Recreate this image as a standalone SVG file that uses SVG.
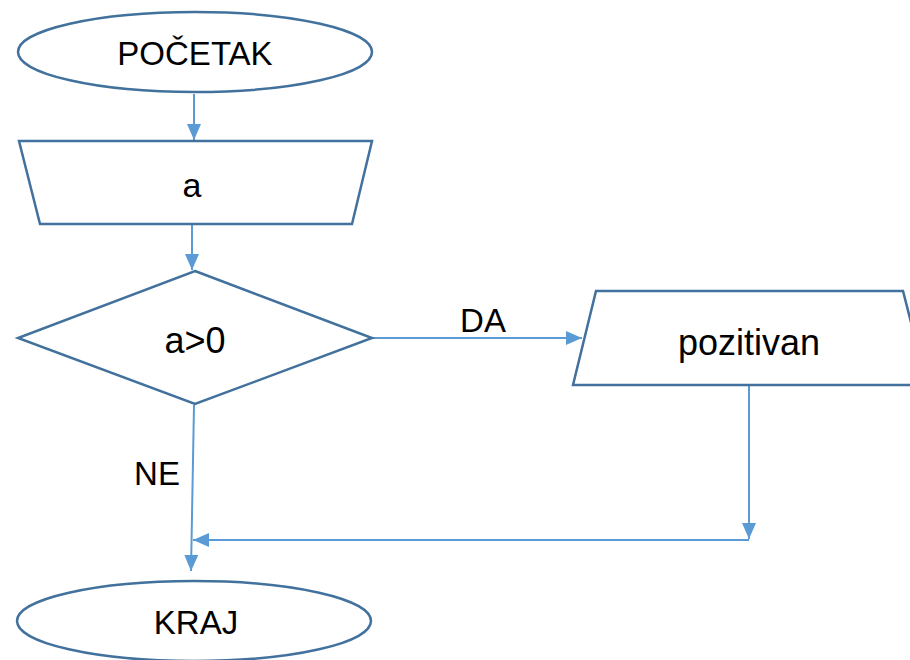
<svg xmlns="http://www.w3.org/2000/svg" width="910" height="660" viewBox="0 0 910 660">
  <style>
    .shape { fill: #ffffff; stroke: #41719C; stroke-width: 2.5; }
    .conn { fill: none; stroke: #5B9BD5; stroke-width: 2; }
    .lbl { font-family: "Liberation Sans", Arial, sans-serif; fill: #000000; text-anchor: middle; }
  </style>
  <defs>
    <marker id="arrow" markerUnits="userSpaceOnUse" markerWidth="16" markerHeight="14" viewBox="0 0 16 14" refX="16" refY="7" orient="auto">
      <path d="M0,0 L16,7 L0,14 Z" fill="#5B9BD5"/>
    </marker>
  </defs>
  <rect width="910" height="660" fill="#ffffff"/>

  <g id="connectors">
    <path class="conn" d="M194,94 L194,140" marker-end="url(#arrow)"/>
    <path class="conn" d="M192,225 L192,270" marker-end="url(#arrow)"/>
    <path class="conn" d="M372,338 L582,338" marker-end="url(#arrow)"/>
    <path class="conn" d="M749,385 L749,539" marker-end="url(#arrow)"/>
    <path class="conn" d="M749,540 L193,540" marker-end="url(#arrow)"/>
    <path class="conn" d="M194,405 L191,571" marker-end="url(#arrow)"/>
  </g>

  <g id="start">
    <ellipse class="shape" cx="195" cy="52" rx="177" ry="40"/>
    <text class="lbl" x="195" y="65" font-size="33">POČETAK</text>
  </g>

  <g id="input-a">
    <polygon class="shape" points="19,141 372,141 352,224 40,224"/>
    <text class="lbl" x="192" y="197" font-size="34">a</text>
  </g>

  <g id="decision">
    <polygon class="shape" points="195,271 372,338 195,404 18,338"/>
    <text class="lbl" x="195" y="353" font-size="36">a&gt;0</text>
  </g>

  <g id="output-pozitivan">
    <polygon class="shape" points="596,291 903,291 927,385 573,385"/>
    <text class="lbl" x="749" y="355" font-size="36">pozitivan</text>
  </g>

  <g id="end">
    <ellipse class="shape" cx="194" cy="621" rx="177" ry="40"/>
    <text class="lbl" x="196" y="634" font-size="33">KRAJ</text>
  </g>

  <g id="labels">
    <text class="lbl" x="483" y="332" font-size="33">DA</text>
    <text class="lbl" x="157" y="485" font-size="33">NE</text>
  </g>
</svg>
